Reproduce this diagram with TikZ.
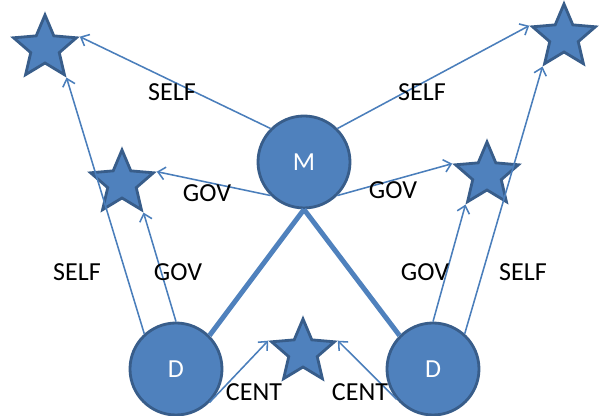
\documentclass[tikz,border=0pt]{standalone}
\usepackage{fontspec}
\setmainfont{Carlito}
\usetikzlibrary{shapes.geometric,arrows.meta}

\definecolor{nodeblue}{HTML}{4F81BD}
\definecolor{rimblue}{HTML}{385D8A}
\definecolor{linkblue}{HTML}{4A7EBB}

\tikzset{
  agent/.style={circle, fill=nodeblue, draw=rimblue, line width=2pt,
    minimum size=2.3cm, inner sep=0pt, text=white,
    font=\fontsize{18.5}{20}\selectfont},
  goal/.style={star, star points=5, star point ratio=2.2, fill=nodeblue,
    draw=rimblue, line width=2pt, minimum size=1.65cm, inner sep=0pt},
  tie/.style={draw=linkblue, line width=1.1pt},
  bond/.style={draw=nodeblue, line width=3.5pt},
  tag/.style={font=\fontsize{18.5}{20}\selectfont, inner sep=0pt}
}

\begin{document}
\begin{tikzpicture}[>={Straight Barb[length=5pt,width=9pt]}]
        \useasboundingbox (0,0) rectangle (15,10.4);

        \node[agent] (m) at (7.6,6.35) {M};
        \node[agent] (dl) at (4.4,1.175) {D};
        \node[agent] (dr) at (10.825,1.175) {D};

        \node[goal] (stl) at (1.125,9.2) {};
        \node[goal] (sml) at (3.05,5.825) {};
        \node[goal] (smr) at (12.175,6.025) {};
        \node[goal] (str) at (14.1,9.475) {};
        \node[goal] (sc) at (7.575,1.6) {};

        \draw[bond] (m.south) -- (dl.45);
        \draw[bond] (m.south) -- (dr.135);

        \draw[tie,->] (m.135) -- (stl.outer point 5);
        \draw[tie,->] (m.45) -- (str.outer point 2);
        \draw[tie,->] (m.225) -- (sml.outer point 5);
        \draw[tie,->] (m.-45) -- (smr.outer point 2);

        \draw[tie,->] (dl.132) -- (stl.outer point 4);
        \draw[tie,->] (dl.north) -- (sml.outer point 4);
        \draw[tie,->] (dr.north) -- (smr.outer point 3);
        \draw[tie,->] (dr.48) -- (str.outer point 3);

        \draw[tie,->] (dl.-45) -- (sc.outer point 2);
        \draw[tie,->] (dr.-140) -- (sc.outer point 5);

        \node[tag] (l1) at (4.3,8.1) {SELF};
        \node[tag] (l2) at (10.55,8.1) {SELF};
        \node[tag] (l3) at (5.175,5.575) {GOV};
        \node[tag] (l4) at (9.825,5.65) {GOV};
        \node[tag] (l5) at (1.925,3.6) {SELF};
        \node[tag] (l6) at (4.45,3.6) {GOV};
        \node[tag] (l7) at (10.625,3.6) {GOV};
        \node[tag] (l8) at (13.075,3.6) {SELF};
        \node[tag] (l9) at (6.35,0.6) {CENT};
        \node[tag] (l10) at (9.0,0.6) {CENT};
    \end{tikzpicture}
\end{document}
